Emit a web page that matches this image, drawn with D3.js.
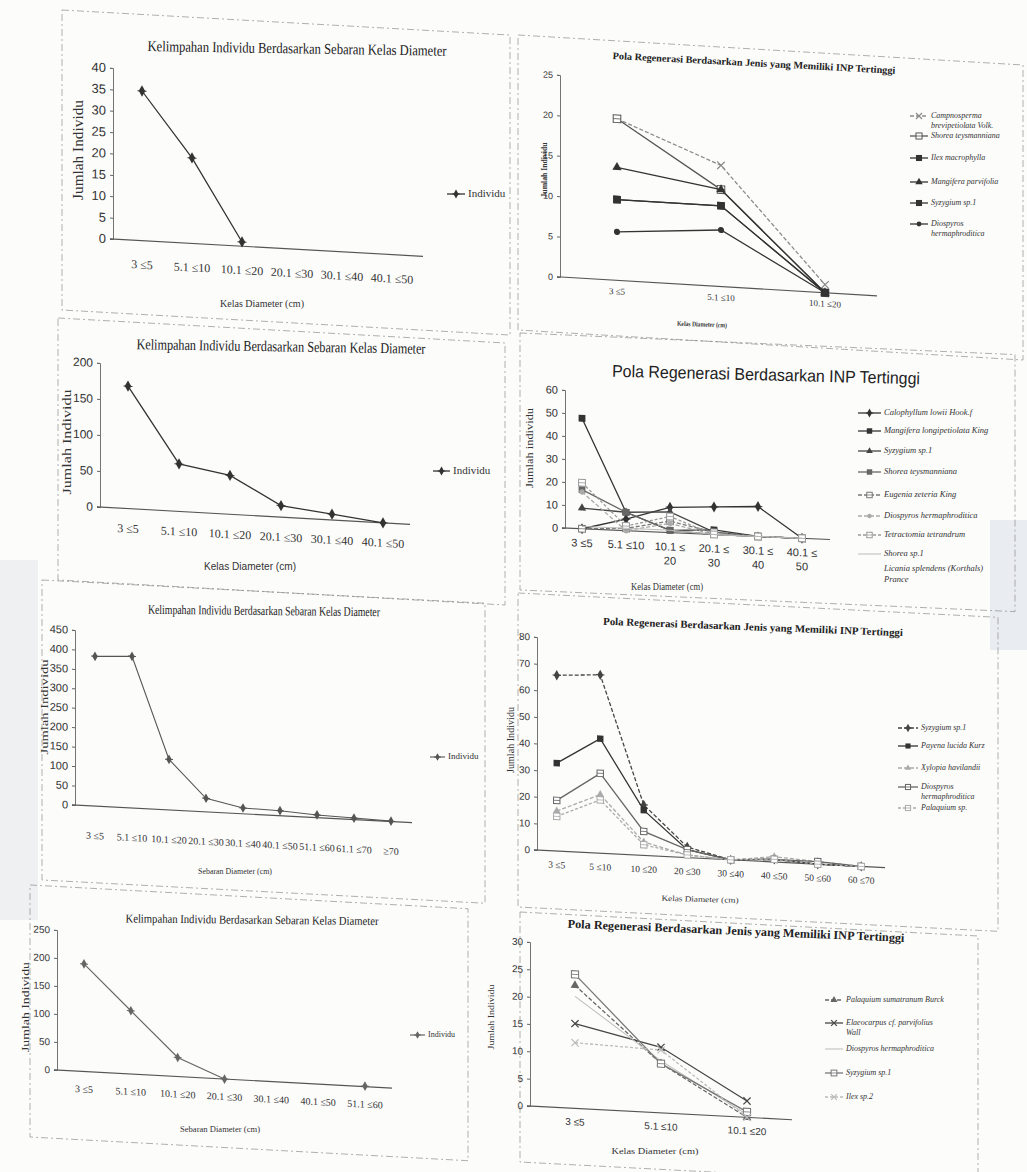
<!DOCTYPE html>
<html>
<head>
<meta charset="utf-8">
<script src="https://cdn.jsdelivr.net/npm/d3@7"></script>
<style>
  body { margin: 0; background: #fcfcfb; }
  svg { display: block; }
</style>
</head>
<body>
<div id="page"></div>
<script>
// diameter classes and values read from the scanned page
const kelasA = ["3 ≤5", "5.1 ≤10", "10.1 ≤20", "20.1 ≤30", "30.1 ≤40", "40.1 ≤50"];
const individuA = [35, 20, 1, null, null, null];

const kelasB = ["3 ≤5", "5.1 ≤10", "10.1 ≤20"];
const jenisB = ["Campnosperma\nbrevipetiolata Volk.", "Shorea teysmanniana", "Ilex macrophylla",
    "Mangifera parvifolia", "Syzygium sp.1", "Diospyros\nhermaphroditica"];
const nilaiB = [[20, 15, 1], [20, 12, 0], [10, 10, 0], [14, 12, 0], [10, 10, 0], [6, 7, 0]];

const kelasC = ["3 ≤5", "5.1 ≤10", "10.1 ≤20", "20.1 ≤30", "30.1 ≤40", "40.1 ≤50"];
const individuC = [170, 66, 54, 16, 8, 0];

const kelasD = ["3 ≤5", "5.1 ≤10", "10.1 ≤\n20", "20.1 ≤\n30", "30.1 ≤\n40", "40.1 ≤\n50"];
const jenisD = ["Calophyllum lowii Hook.f", "Mangifera longipetiolata King", "Syzygium sp.1",
    "Shorea teysmanniana", "Eugenia zeteria King", "Diospyros hermaphroditica",
    "Tetractomia tetrandrum", "Shorea sp.1", "Licania splendens (Korthals)\nPrance"];
const nilaiD = [[0, 5, 11, 12, 13, 0], [48, 8, 1, 2, 0, 0], [9, 8, 9, 1, 0, 0],
    [17, 8, 1, 0, 0, 0], [0, 1, 5, 1, 0, 0], [16, 0, 4, 0, 0, 0],
    [20, 2, 7, 0, 0, 0], [1, 1, 1, 0, 0, 0], [null, null, null, null, null, null]];

const kelasE = ["3 ≤5", "5.1 ≤10", "10.1 ≤20", "20.1 ≤30", "30.1 ≤40", "40.1 ≤50", "51.1 ≤60", "61.1 ≤70", "≥70"];
const individuE = [385, 390, 130, 35, 15, 13, 7, 4, 1];

const kelasF = ["3 ≤5", "5 ≤10", "10 ≤20", "20 ≤30", "30 ≤40", "40 ≤50", "50 ≤60", "60 ≤70"];
const jenisF = ["Syzygium sp.1", "Payena lucida Kurz", "Xylopia havilandii",
    "Diospyros\nhermaphroditica", "Palaquium sp."];
const nilaiF = [[66, 67, 19, 4, 0, 1, 0, 0], [33, 43, 17, 3, 0, 1, 0, 0], [15, 22, 5, 1, 0, 2, 1, 0],
    [19, 30, 9, 3, 0, 1, 1, 0], [13, 20, 4, 1, 0, 1, 0, 0]];

const kelasG = ["3 ≤5", "5.1 ≤10", "10.1 ≤20", "20.1 ≤30", "30.1 ≤40", "40.1 ≤50", "51.1 ≤60"];
const individuG = [192, 113, 34, 0, null, null, 1];

const kelasH = ["3 ≤5", "5.1 ≤10", "10.1 ≤20"];
const jenisH = ["Palaquium sumatranum Burck", "Elaeocarpus cf. parvifolius\nWall", "Diospyros hermaphroditica",
    "Syzygium sp.1", "Ilex sp.2"];
const nilaiH = [[22.5, 9, 0], [15.5, 12, 3], [20.5, 9.5, 0.5], [24.5, 9, 1], [12, 11.5, 0]];

const titleK = "Kelimpahan Individu Berdasarkan Sebaran Kelas Diameter";
const titleP = "Pola Regenerasi Berdasarkan Jenis yang Memiliki INP Tertinggi";

// page svg
const W = 1027, H = 1172;
const page = d3.select("#page").append("svg")
    .attr("width", W).attr("height", H)
    .style("font-family", "'Liberation Serif', 'DejaVu Serif', serif");
page.append("rect").attr("width", W).attr("height", H).attr("fill", "#fcfcfb");
// scanner shadows at the edges
page.append("rect").attr("x", 0).attr("y", 560).attr("width", 38).attr("height", 360).attr("fill", "#eef0f2");
page.append("rect").attr("x", 990).attr("y", 520).attr("width", 37).attr("height", 130).attr("fill", "#e9ecf0");

// squeeze a text to a given width (the scan uses a narrow face)
function fit(sel, w) {
    if (w) sel.attr("textLength", w).attr("lengthAdjust", "spacingAndGlyphs");
    return sel;
}

function marker(g, type, x, y, col, s) {
    s = s || 3.2;
    if (type === "diamond") {
        g.append("path").attr("d", d3.symbol(d3.symbolDiamond, s * s * 3)()).attr("transform", `translate(${x},${y})`).attr("fill", col);
        g.append("path").attr("d", `M${x - s - 1},${y}H${x + s + 1}`).attr("stroke", col).attr("stroke-width", 1);
    } else if (type === "square") {
        g.append("rect").attr("x", x - s).attr("y", y - s).attr("width", 2 * s).attr("height", 2 * s).attr("fill", col);
    } else if (type === "squareOpen") {
        g.append("rect").attr("x", x - s).attr("y", y - s).attr("width", 2 * s).attr("height", 2 * s)
            .attr("fill", "#fff").attr("stroke", col).attr("stroke-width", 1);
        g.append("path").attr("d", `M${x - s},${y}H${x + s}`).attr("stroke", col).attr("stroke-width", 0.8);
    } else if (type === "triangle") {
        g.append("path").attr("d", d3.symbol(d3.symbolTriangle, s * s * 2.6)()).attr("transform", `translate(${x},${y})`).attr("fill", col);
    } else if (type === "x") {
        g.append("path").attr("d", `M${x - s},${y - s}L${x + s},${y + s}M${x - s},${y + s}L${x + s},${y - s}`)
            .attr("stroke", col).attr("stroke-width", 1.2);
    } else if (type === "circle") {
        g.append("circle").attr("cx", x).attr("cy", y).attr("r", s * 0.8).attr("fill", col);
    }
}

function drawPanel(p) {
    const g = page.append("g");

    // dashed border of the pasted figure
    g.append("rect")
        .attr("transform", `translate(${p.box[0]},${p.box[1]}) skewY(${p.skew})`)
        .attr("width", p.box[2]).attr("height", p.box[3])
        .attr("fill", "none").attr("stroke", "#8a8a8a").attr("stroke-width", 0.9)
        .attr("stroke-dasharray", "7,3,2,3").attr("opacity", 0.75);

    // title
    fit(g.append("text")
        .attr("x", p.title.x).attr("y", p.title.y)
        .attr("text-anchor", "middle").attr("dominant-baseline", "middle")
        .attr("transform", `rotate(${p.title.rot},${p.title.x},${p.title.y})`)
        .style("font-size", p.title.size + "px")
        .style("font-weight", p.title.bold ? "bold" : "normal")
        .style("font-family", p.title.font || null)
        .attr("fill", "#222")
        .text(p.title.text), p.title.w);

    // plot group, sheared like the scan
    const plot = g.append("g")
        .attr("transform", `translate(${p.x0},${p.y0}) skewY(${p.skew}) translate(${-p.x0},${-p.y0})`);

    const x = d3.scaleBand().domain(p.cats).range(p.xr);
    const cx = c => x(c) + x.bandwidth() / 2;
    const y = d3.scaleLinear().domain([0, p.yMax]).range([p.y0, p.yTop]);

    // y axis
    const yAxis = plot.append("g")
        .attr("transform", `translate(${p.x0},0)`)
        .call(d3.axisLeft(y).tickValues(d3.range(0, p.yMax + 0.001, p.yStep)).tickSize(3).tickPadding(4));
    yAxis.select(".domain").attr("stroke", "#666").attr("stroke-width", 0.9);
    yAxis.selectAll(".tick line").attr("stroke", "#666");
    yAxis.selectAll(".tick text")
        .style("font-size", p.tickSize + "px")
        .style("font-family", p.tickFont || null)
        .attr("fill", "#333");

    // x axis line
    plot.append("line")
        .attr("x1", p.x0 - 3).attr("x2", p.xEnd)
        .attr("y1", p.y0).attr("y2", p.y0)
        .attr("stroke", "#555").attr("stroke-width", 1.1);

    // category labels
    p.cats.forEach(c => {
        const t = plot.append("text")
            .attr("x", cx(c)).attr("y", p.y0 + p.catOff)
            .attr("text-anchor", "middle")
            .style("font-size", p.catSize + "px")
            .style("font-family", p.tickFont || null)
            .attr("fill", "#333");
        c.split("\n").forEach((ln, i) => {
            t.append("tspan").attr("x", cx(c)).attr("dy", i === 0 ? 0 : p.catSize + 3).text(ln);
        });
    });

    // series
    const line = d3.line()
        .defined(d => d.v !== null)
        .x(d => cx(d.c))
        .y(d => y(d.v));
    p.series.forEach(s => {
        const pts = p.cats.map((c, i) => ({c: c, v: s.values[i]}));
        plot.append("path")
            .datum(pts)
            .attr("d", line)
            .attr("fill", "none")
            .attr("stroke", s.col)
            .attr("stroke-width", s.w || 1.3)
            .attr("stroke-dasharray", s.dash || null);
        pts.filter(d => d.v !== null).forEach(d => marker(plot, s.mk, cx(d.c), y(d.v), s.col, p.mk));
    });

    // y title
    fit(g.append("text")
        .attr("transform", `translate(${p.yTitle.x},${p.yTitle.y}) rotate(-90)`)
        .attr("text-anchor", "middle").attr("dominant-baseline", "middle")
        .style("font-size", p.yTitle.size + "px")
        .style("font-weight", p.yTitle.bold ? "bold" : "normal")
        .attr("fill", "#333")
        .text(p.yTitle.text), p.yTitle.w);

    // x title
    fit(g.append("text")
        .attr("x", p.xTitle.x).attr("y", p.xTitle.y)
        .attr("text-anchor", "middle").attr("dominant-baseline", "middle")
        .attr("transform", `rotate(${p.xTitle.rot || 0},${p.xTitle.x},${p.xTitle.y})`)
        .style("font-size", p.xTitle.size + "px")
        .style("font-family", p.xTitle.font || null)
        .style("font-weight", p.xTitle.bold ? "bold" : "normal")
        .attr("fill", "#333")
        .text(p.xTitle.text), p.xTitle.w);

    // legend
    p.series.forEach((s, i) => {
        const ly = p.leg.ys[i];
        if (s.values.some(v => v !== null)) {
            g.append("line")
                .attr("x1", p.leg.x).attr("x2", p.leg.x + p.leg.len)
                .attr("y1", ly).attr("y2", ly)
                .attr("stroke", s.col).attr("stroke-width", s.w || 1.3)
                .attr("stroke-dasharray", s.dash || null);
            marker(g, s.mk, p.leg.x + p.leg.len / 2, ly, s.col, p.mk * 0.8);
        }
        const t = g.append("text")
            .attr("x", p.leg.x + p.leg.len + 3).attr("y", ly)
            .attr("dominant-baseline", "middle")
            .style("font-size", p.leg.size + "px")
            .style("font-style", p.leg.italic ? "italic" : "normal")
            .attr("fill", "#333");
        s.name.split("\n").forEach((ln, j) => {
            t.append("tspan").attr("x", p.leg.x + p.leg.len + 3).attr("dy", j === 0 ? 0 : p.leg.size + 2).text(ln);
        });
    });
}

// line styles for the species charts
const gayaB = [
    {col: "#8a8a8a", dash: "4,2", mk: "x"},
    {col: "#555", mk: "squareOpen"},
    {col: "#333", mk: "square"},
    {col: "#333", mk: "triangle"},
    {col: "#333", mk: "square"},
    {col: "#333", mk: "circle"}
];
const gayaD = [
    {col: "#333", mk: "diamond"},
    {col: "#333", mk: "square"},
    {col: "#444", mk: "triangle"},
    {col: "#666", mk: "square"},
    {col: "#777", dash: "4,2", mk: "squareOpen"},
    {col: "#aaa", dash: "4,2", mk: "circle"},
    {col: "#999", dash: "3,2", mk: "squareOpen"},
    {col: "#bbb", mk: "none", w: 1},
    {col: "#bbb", mk: "none"}
];
const gayaF = [
    {col: "#444", dash: "4,2", mk: "diamond"},
    {col: "#333", mk: "square"},
    {col: "#aaa", dash: "4,2", mk: "triangle"},
    {col: "#666", mk: "squareOpen"},
    {col: "#aaa", dash: "3,2", mk: "squareOpen"}
];
const gayaH = [
    {col: "#666", dash: "4,2", mk: "triangle"},
    {col: "#444", mk: "x"},
    {col: "#bbb", mk: "none", w: 1},
    {col: "#777", mk: "squareOpen"},
    {col: "#bbb", dash: "3,2", mk: "x"}
];
function seri(names, vals, gaya) {
    return names.map((n, i) => Object.assign({name: n, values: vals[i]}, gaya[i]));
}

// panel A: top left
drawPanel({
    box: [62, 10, 448, 300], skew: 3.2,
    title: {text: titleK, x: 297, y: 50, size: 15, w: 299, rot: 0.9},
    x0: 113, y0: 239, yTop: 68, yMax: 40, yStep: 5, xr: [117, 417], xEnd: 423,
    cats: kelasA, tickSize: 13, catSize: 12, catOff: 28, mk: 3.5,
    series: [{name: "Individu", values: individuA, col: "#333", mk: "diamond"}],
    yTitle: {text: "Jumlah Individu", x: 80, y: 150, size: 15, w: 100},
    xTitle: {text: "Kelas Diameter (cm)", x: 262, y: 304, size: 11, w: 84},
    leg: {x: 447, len: 18, ys: [194], size: 11}
});

// panel B: top right
drawPanel({
    box: [518, 35, 505, 295], skew: 3.4,
    title: {text: titleP, x: 754, y: 64, size: 10, bold: true, w: 283, rot: 3},
    x0: 560, y0: 277, yTop: 75, yMax: 25, yStep: 5, xr: [565, 877], xEnd: 877,
    cats: kelasB, tickSize: 9, catSize: 9, catOff: 14, mk: 3.8,
    series: seri(jenisB, nilaiB, gayaB),
    yTitle: {text: "Jumlah Individu", x: 545, y: 170, size: 8, bold: true, w: 55},
    xTitle: {text: "Kelas Diameter (cm)", x: 702, y: 325, size: 7, bold: true, w: 50, rot: 2},
    leg: {x: 910, len: 18, ys: [116, 136, 158, 182, 203, 224], size: 8, italic: true}
});

// panel C: second left
drawPanel({
    box: [58, 318, 447, 262], skew: 3.2,
    title: {text: titleK, x: 281, y: 348, size: 15, w: 289, rot: 0.9},
    x0: 100, y0: 507, yTop: 363, yMax: 200, yStep: 50, xr: [102.5, 408.5], xEnd: 410,
    cats: kelasC, tickSize: 12, catSize: 12, catOff: 24, mk: 3.5,
    series: [{name: "Individu", values: individuC, col: "#333", mk: "diamond"}],
    yTitle: {text: "Jumlah Individu", x: 68, y: 442, size: 13, w: 105},
    xTitle: {text: "Kelas Diameter (cm)", x: 250, y: 567, size: 11, w: 92, font: "'Liberation Sans', Arial, sans-serif"},
    leg: {x: 433, len: 17, ys: [471], size: 11}
});

// panel D: second right
drawPanel({
    box: [520, 333, 495, 257], skew: 2.5,
    title: {text: "Pola Regenerasi Berdasarkan INP Tertinggi", x: 766, y: 376, size: 17, w: 308, rot: 1.4,
        font: "'Liberation Sans', Arial, sans-serif"},
    x0: 565, y0: 528, yTop: 390, yMax: 60, yStep: 10, xr: [560, 824], xEnd: 830,
    cats: kelasD, tickSize: 11, tickFont: "'Liberation Sans', Arial, sans-serif", catSize: 11, catOff: 18, mk: 3.4,
    series: seri(jenisD, nilaiD, gayaD),
    yTitle: {text: "Jumlah individu", x: 530, y: 448, size: 11, w: 80},
    xTitle: {text: "Kelas Diameter (cm)", x: 667, y: 588, size: 10, w: 72},
    leg: {x: 858, len: 23, ys: [413, 431, 451, 472, 495, 516, 535, 554, 569], size: 8.5, italic: true}
});

// panel E: third left
drawPanel({
    box: [42, 580, 443, 300], skew: 3.0,
    title: {text: titleK, x: 264, y: 612, size: 13, w: 232, rot: 0.6},
    x0: 75, y0: 805, yTop: 630, yMax: 450, yStep: 50, xr: [76.5, 409.5], xEnd: 412,
    cats: kelasE, tickSize: 11, catSize: 10, catOff: 33, mk: 3,
    series: [{name: "Individu", values: individuE, col: "#555", mk: "diamond", w: 1.1}],
    yTitle: {text: "Jumlah Individu", x: 45, y: 707, size: 11, w: 95},
    xTitle: {text: "Sebaran Diameter (cm)", x: 235, y: 872, size: 9, w: 74},
    leg: {x: 430, len: 15, ys: [757], size: 9}
});

// panel F: third right
drawPanel({
    box: [518, 593, 480, 314], skew: 2.9,
    title: {text: titleP, x: 753, y: 628, size: 10.5, bold: true, w: 300, rot: 2.2},
    x0: 537, y0: 850, yTop: 637, yMax: 80, yStep: 10, xr: [535, 883], xEnd: 885,
    cats: kelasF, tickSize: 10, catSize: 9.5, catOff: 17, mk: 3.2,
    series: seri(jenisF, nilaiF, gayaF),
    yTitle: {text: "Jumlah Individu", x: 512, y: 740, size: 9.5, w: 66},
    xTitle: {text: "Kelas Diameter (cm)", x: 700, y: 900, size: 8, w: 77, rot: 1.5},
    leg: {x: 898, len: 20, ys: [728, 746, 768, 787, 808], size: 8, italic: true}
});

// panel G: bottom left
drawPanel({
    box: [30, 885, 438, 252], skew: 3.1,
    title: {text: titleK, x: 252, y: 921, size: 12, w: 253, rot: 0.6},
    x0: 57, y0: 1070, yTop: 930, yMax: 250, yStep: 50, xr: [60.6, 388.4], xEnd: 392,
    cats: kelasG, tickSize: 10, catSize: 10, catOff: 21, mk: 3,
    series: [{name: "Individu", values: individuG, col: "#666", mk: "diamond", w: 1.2}],
    yTitle: {text: "Jumlah Individu", x: 27, y: 1007, size: 10, w: 90},
    xTitle: {text: "Sebaran Diameter (cm)", x: 220, y: 1130, size: 9, w: 80},
    leg: {x: 410, len: 15, ys: [1035], size: 8}
});

// panel H: bottom right
drawPanel({
    box: [520, 912, 458, 250], skew: 3.0,
    title: {text: titleP, x: 736, y: 932, size: 12, bold: true, w: 337, rot: 2.4},
    x0: 530, y0: 1106, yTop: 942, yMax: 30, yStep: 5, xr: [532, 790], xEnd: 792,
    cats: kelasH, tickSize: 10, tickFont: "'Liberation Sans', Arial, sans-serif", catSize: 10, catOff: 17, mk: 3.6,
    series: seri(jenisH, nilaiH, gayaH),
    yTitle: {text: "Jumlah Individu", x: 492, y: 1017, size: 9, w: 65},
    xTitle: {text: "Kelas Diameter (cm)", x: 655, y: 1152, size: 9, w: 87},
    leg: {x: 825, len: 18, ys: [1000, 1023, 1049, 1073, 1097], size: 8, italic: true}
});
</script>
</body>
</html>
